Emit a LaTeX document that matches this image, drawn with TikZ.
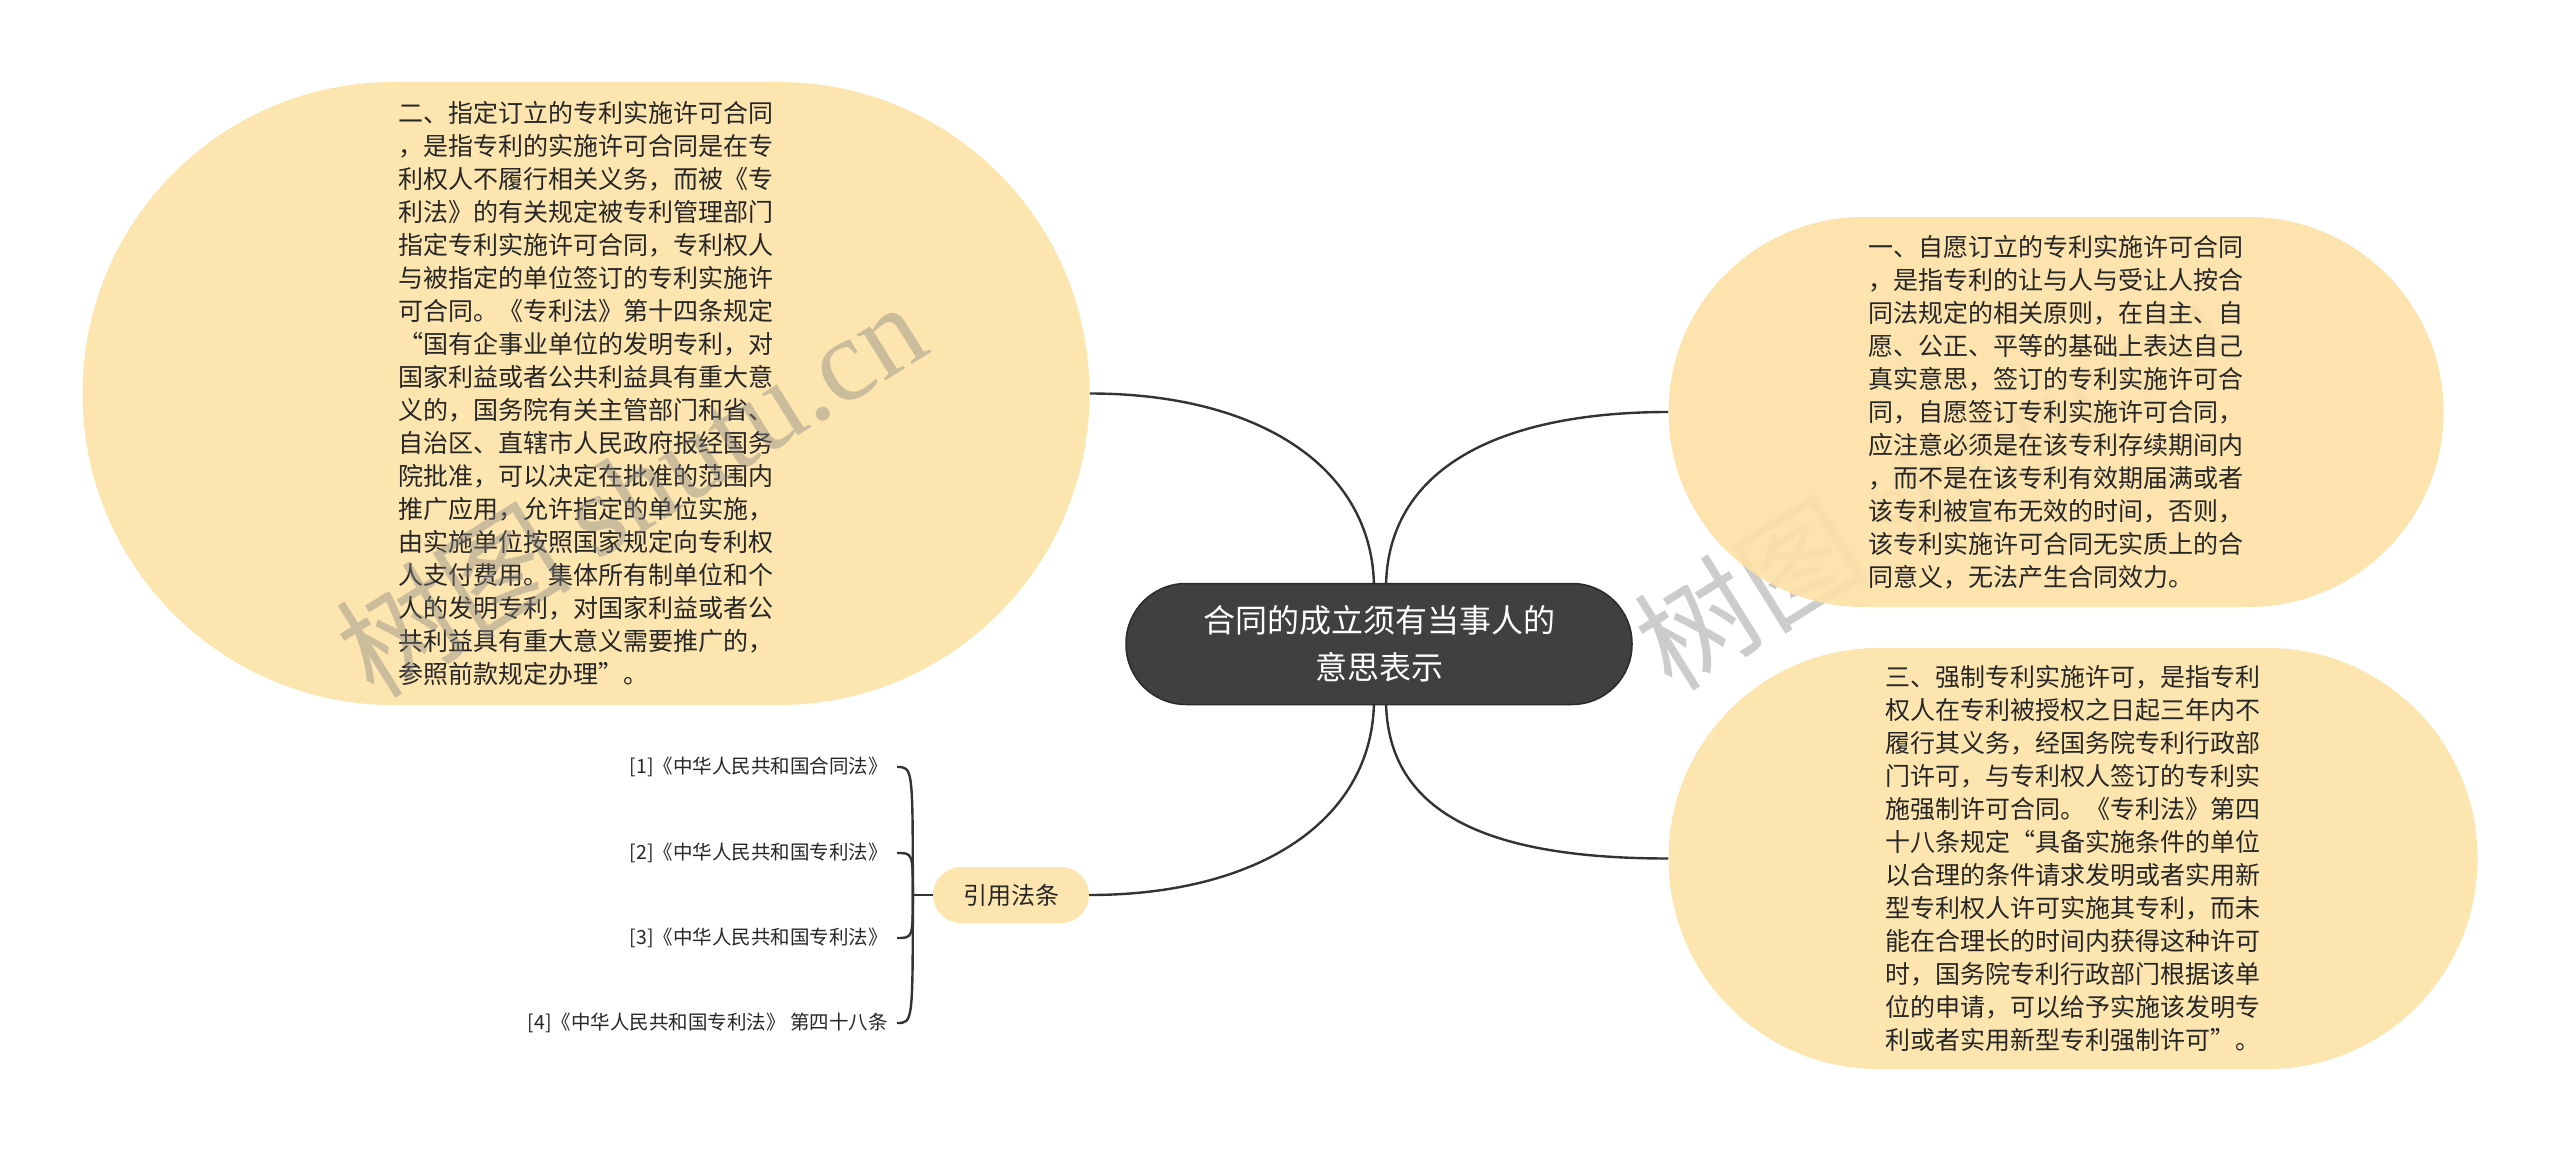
\documentclass[tikz,border=0pt]{standalone}
\usepackage{fontspec}
\setmainfont{Noto Sans CJK SC}
\newfontfamily\wmlat{Liberation Serif}
\usetikzlibrary{calc}
\definecolor{bub}{RGB}{253,229,176}
\definecolor{bubT}{RGB}{253,226,167}
\definecolor{rootfill}{RGB}{64,64,64}
\definecolor{rootdraw}{RGB}{42,42,42}
\definecolor{txt}{RGB}{38,38,38}
\definecolor{link}{RGB}{51,51,51}
\definecolor{wmc}{RGB}{128,128,128}
\pgfdeclarelayer{bg}
\pgfsetlayers{bg,main}
\begin{document}
\begin{tikzpicture}[x=1pt,y=-1pt,
  bubble/.style={fill=bub, text=txt, align=left, inner sep=0pt,
    font=\fontsize{25}{33}\selectfont},
  rootbox/.style={fill=rootfill, draw=rootdraw, line width=1.5pt, text=white,
    align=center, inner sep=0pt, minimum width=506, minimum height=121,
    rounded corners=60, font=\fontsize{32}{47}\selectfont},
  citebox/.style={fill=bub, text=txt, inner sep=0pt, minimum width=156,
    minimum height=56, rounded corners=28, font=\fontsize{24}{28}\selectfont},
  leaf/.style={anchor=east, inner xsep=9pt, inner ysep=3pt, text=txt,
    font=\fontsize{19.5}{23}\selectfont},
  link/.style={draw=link, line width=2.4pt},
  wmark/.style={text=wmc, text opacity=0.4, inner sep=0pt, anchor=base west,
    rotate=32, font=\fontsize{118}{118}\selectfont}
]
\useasboundingbox (0,0) rectangle (2560,1153);
\begin{pgfonlayer}{bg}
  \fill[white] (0,0) rectangle (2560,1153);
\end{pgfonlayer}

% watermark lying under the right bubble
\node[wmark] (wm2) at (1672,694) {树图 {\wmlat shutu.cn}};

% left bubble
\node[bubble, minimum width=1007, minimum height=623, rounded corners=311] (lb) at (586,393.5) {%
二、指定订立的专利实施许可合同\\
，是指专利的实施许可合同是在专\\
利权人不履行相关义务，而被《专\\
利法》的有关规定被专利管理部门\\
指定专利实施许可合同，专利权人\\
与被指定的单位签订的专利实施许\\
可合同。《专利法》第十四条规定\\
“国有企事业单位的发明专利，对\\
国家利益或者公共利益具有重大意\\
义的，国务院有关主管部门和省、\\
自治区、直辖市人民政府报经国务\\
院批准，可以决定在批准的范围内\\
推广应用，允许指定的单位实施，\\
由实施单位按照国家规定向专利权\\
人支付费用。集体所有制单位和个\\
人的发明专利，对国家利益或者公\\
共利益具有重大意义需要推广的，\\
参照前款规定办理”。};

% right top bubble
\node[bubble, fill=bubT, fill opacity=0.9, text opacity=1, minimum width=775, minimum height=390, rounded corners=195] (rt) at (2056,412) {%
一、自愿订立的专利实施许可合同\\
，是指专利的让与人与受让人按合\\
同法规定的相关原则，在自主、自\\
愿、公正、平等的基础上表达自己\\
真实意思，签订的专利实施许可合\\
同，自愿签订专利实施许可合同，\\
应注意必须是在该专利存续期间内\\
，而不是在该专利有效期届满或者\\
该专利被宣布无效的时间，否则，\\
该专利实施许可合同无实质上的合\\
同意义，无法产生合同效力。};

% right bottom bubble
\node[bubble, minimum width=809, minimum height=421, rounded corners=210] (rb) at (2073,858.5) {%
三、强制专利实施许可，是指专利\\
权人在专利被授权之日起三年内不\\
履行其义务，经国务院专利行政部\\
门许可，与专利权人签订的专利实\\
施强制许可合同。《专利法》第四\\
十八条规定“具备实施条件的单位\\
以合理的条件请求发明或者实用新\\
型专利权人许可实施其专利，而未\\
能在合理长的时间内获得这种许可\\
时，国务院专利行政部门根据该单\\
位的申请，可以给予实施该发明专\\
利或者实用新型专利强制许可”。};

% central topic
\node[rootbox] (c) at (1379,644) {合同的成立须有当事人的\\意思表示};

% citation node and leaves
\node[citebox] (cite) at (1011,895) {引用法条};
\node[leaf] (l1) at (897,767) {[1]《中华人民共和国合同法》};
\node[leaf] (l2) at (897,853) {[2]《中华人民共和国专利法》};
\node[leaf] (l3) at (897,938) {[3]《中华人民共和国专利法》};
\node[leaf] (l4) at (897,1023) {[4]《中华人民共和国专利法》 第四十八条};

% watermark over the left bubble
\node[wmark] (wm1) at (374,701) {树图 {\wmlat shutu.cn}};

% connectors
\begin{pgfonlayer}{bg}
  \draw[link] (lb.east) .. controls +(171,0) and +(0,-120) .. ($(c.north)+(-5,6)$);
  \draw[link] (rt.west) .. controls +(-170,0) and +(0,-120) .. ($(c.north)+(7,6)$);
  \draw[link] (cite.east) .. controls +(171,0) and +(0,120) .. ($(c.south)+(-5,-6)$);
  \draw[link] (rb.west) .. controls +(-170,0) and +(0,120) .. ($(c.south)+(7,-6)$);
  \coordinate (j) at ($(cite.west)+(-20,0)$);
  \draw[link] (cite.west) -- (j);
  \foreach \k in {l1,l2,l3,l4}
    \draw[link] (j) .. controls (j |- \k.east) and (j |- \k.east) .. (\k.east);
\end{pgfonlayer}
\end{tikzpicture}
\end{document}
